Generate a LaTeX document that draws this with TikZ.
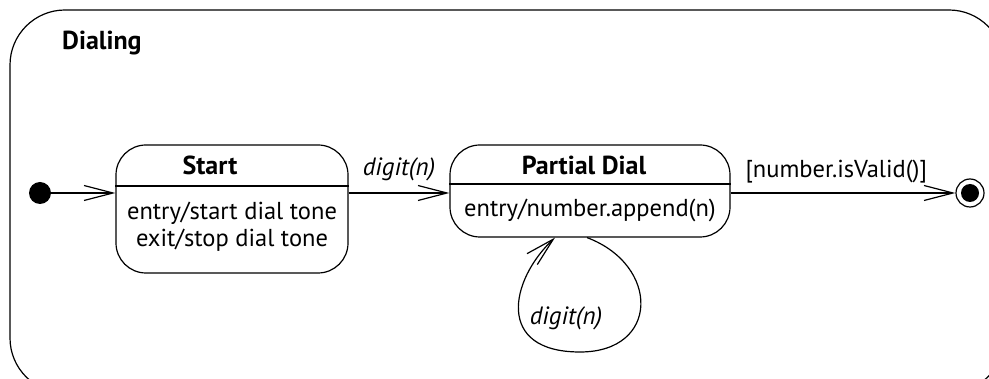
\documentclass[tikz,border=0pt]{standalone}
\usepackage{fontspec}
\setmainfont{PT Sans}
\usetikzlibrary{arrows.meta}
\begin{document}
\begin{tikzpicture}[x=1pt, y=-1pt, >={Straight Barb[length=29pt, width=15pt]},
  state/.style={draw, line width=1.2pt, rounded corners=30pt, inner sep=0pt},
  title/.style={font=\bfseries\fontsize{26}{30}\selectfont},
  body/.style={font=\fontsize{24.5}{27}\selectfont, align=center},
  event/.style={font=\itshape\fontsize{25}{29}\selectfont},
  trans/.style={line width=1.2pt, ->}]
  \useasboundingbox (0,0) rectangle (989,379);
  \clip (0,0) rectangle (989,379);

  % Composite state frame
  \draw[line width=1.2pt, rounded corners=55pt] (10,10) rectangle (1004,393);
  \node[title, anchor=west, inner sep=0pt] (dialing) at (62,43) {Dialing};

  % Pseudo states
  \node[fill, circle, minimum size=22pt, inner sep=0pt] (init) at (40,193) {};
  \node[draw, circle, line width=1.2pt, minimum size=28pt, inner sep=0pt] (final) at (970,193) {};
  \fill (final.center) circle (9);

  % Start state
  \node[state, minimum width=232pt, minimum height=128pt] (start) at (232,209) {};
  \draw[line width=1.2pt] (start.west |- 0,186) -- (start.east |- 0,186);
  \node[title] (starttitle) at (210,165) {Start};
  \node[body] (startbody) at (232,227) {entry/start dial tone\\exit/stop dial tone};

  % Partial dial state
  \node[state, minimum width=280pt, minimum height=92pt] (partial) at (590,191) {};
  \draw[line width=1.2pt] (partial.west |- 0,184) -- (partial.east |- 0,184);
  \node[title] (partialtitle) at (584,165) {Partial Dial};
  \node[body] (partialbody) at (590,210) {entry/number.append(n)};

  % Transitions
  \draw[trans] (init) -- (init -| start.west);
  \draw[trans] (start.east |- init) -- node[event, above=8pt] {digit(n)} (partial.west |- init);
  \draw[trans] (partial.east |- init) -- node[body, above=6pt, pos=0.47] {[number.isValid()]} (final);
  \draw[trans] ([xshift=-3pt]partial.south) .. controls (660,265) and (660,352) .. (580,352)
    .. controls (495,352) and (510,280) .. ([xshift=-35pt]partial.south);
  \node[event] (loopevent) at (566,318) {digit(n)};
\end{tikzpicture}
\end{document}
